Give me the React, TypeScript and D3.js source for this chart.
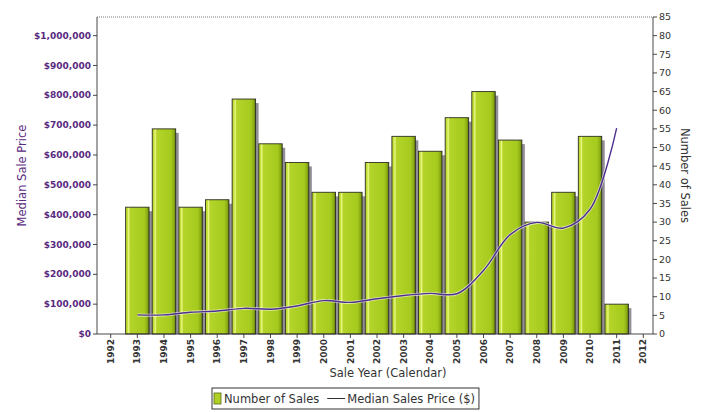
import React, { useEffect, useRef } from 'react';
import * as d3 from 'd3';

// x categories (calendar years on the axis)
const axisYears = ['1992', '1993', '1994', '1995', '1996', '1997', '1998', '1999', '2000', '2001', '2002',
  '2003', '2004', '2005', '2006', '2007', '2008', '2009', '2010', '2011', '2012'];

// years that have data
const saleYears = ['1993', '1994', '1995', '1996', '1997', '1998', '1999', '2000', '2001', '2002',
  '2003', '2004', '2005', '2006', '2007', '2008', '2009', '2010', '2011'];

// bars (right axis)
const numberOfSales = [34, 55, 34, 36, 63, 51, 46, 38, 38, 46, 53, 49, 58, 65, 52, 30, 38, 53, 8];

// line (left axis)
const medianPrice = [64000, 64000, 73000, 77000, 86000, 83000, 94000, 112000, 106000, 118000,
  129000, 136000, 135000, 213000, 333000, 374000, 355000, 418000, 690000];

const priceTicks = [0, 100000, 200000, 300000, 400000, 500000, 600000, 700000, 800000, 900000, 1000000];
const countTicks = [0, 5, 10, 15, 20, 25, 30, 35, 40, 45, 50, 55, 60, 65, 70, 75, 80, 85];

const W = 702;
const H = 412;
const FONT = '"DejaVu Sans", Verdana, sans-serif';

const App = () => {
  const svgRef = useRef(null);

  useEffect(() => {
    const svg = d3.select(svgRef.current);
    svg.selectAll('*').remove();

    const left = 97, right = 653, top = 17, bottom = 334;

    const x = d3.scaleBand().domain(axisYears).range([97.4, 656.6]).padding(0);
    const yCount = d3.scaleLinear().domain([0, 85]).range([bottom, top]);
    const yPrice = d3.scaleLinear().domain([0, 1062500]).range([bottom, top]);
    const cx = (d) => x(d) + x.bandwidth() / 2;

    svg.append('rect').attr('width', W).attr('height', H).attr('fill', '#fff');

    // bar gradient - light stripe on the left, darker right edge
    const grad = svg.append('defs').append('linearGradient')
      .attr('id', 'bar-grad').attr('x1', '0%').attr('x2', '100%').attr('y1', '0%').attr('y2', '0%');
    [['0%', '#afd024'], ['8%', '#c8e23e'], ['13%', '#ecf786'], ['19%', '#b4d42a'],
      ['80%', '#a6ca1e'], ['92%', '#8cae14'], ['100%', '#5e7a0c']].forEach(([o, c]) => {
      grad.append('stop').attr('offset', o).attr('stop-color', c);
    });

    // top border (dotted)
    svg.append('line')
      .attr('x1', left).attr('x2', right).attr('y1', top).attr('y2', top)
      .attr('stroke', '#555').attr('stroke-width', 0.8).attr('stroke-dasharray', '1,1');

    // bars
    const barW = x.bandwidth() * 0.88;
    const bars = svg.append('g');
    saleYears.forEach((yr, i) => {
      const bx = cx(yr) - barW / 2;
      const by = yCount(numberOfSales[i]);
      const bh = bottom - by;
      bars.append('rect')
        .attr('x', bx + 3).attr('y', by + 4)
        .attr('width', barW).attr('height', Math.max(0, bh - 4))
        .attr('fill', '#7f7a86').attr('opacity', 0.85);
      bars.append('rect')
        .attr('x', bx).attr('y', by)
        .attr('width', barW).attr('height', bh)
        .attr('fill', 'url(#bar-grad)')
        .attr('stroke', '#2e2e22').attr('stroke-width', 0.9);
    });

    // median price line
    const line = d3.line()
      .x((d, i) => cx(saleYears[i]))
      .y((d) => yPrice(d))
      .curve(d3.curveCatmullRom);
    svg.append('path')
      .datum(medianPrice)
      .attr('d', line)
      .attr('fill', 'none')
      .attr('stroke', '#ffffff').attr('stroke-opacity', 0.6).attr('stroke-width', 3);
    svg.append('path')
      .datum(medianPrice)
      .attr('d', line)
      .attr('fill', 'none')
      .attr('stroke', '#4f2f92').attr('stroke-width', 1.4);

    // axes lines
    const axisCol = '#333';
    svg.append('line').attr('x1', left).attr('x2', left).attr('y1', top).attr('y2', bottom)
      .attr('stroke', axisCol).attr('stroke-width', 0.9);
    svg.append('line').attr('x1', right).attr('x2', right).attr('y1', top).attr('y2', bottom)
      .attr('stroke', axisCol).attr('stroke-width', 0.9);
    svg.append('line').attr('x1', left).attr('x2', right).attr('y1', bottom).attr('y2', bottom)
      .attr('stroke', axisCol).attr('stroke-width', 0.9);

    // left ticks
    const priceFmt = (v) => '$' + d3.format(',')(v);
    priceTicks.forEach((t) => {
      const ty = yPrice(t);
      svg.append('line').attr('x1', left - 4).attr('x2', left).attr('y1', ty).attr('y2', ty)
        .attr('stroke', axisCol).attr('stroke-width', 0.9);
      svg.append('text')
        .attr('x', left - 6).attr('y', ty).attr('dy', '0.35em')
        .attr('text-anchor', 'end')
        .attr('font-family', FONT).attr('font-size', 9).attr('font-weight', 'bold')
        .attr('fill', '#5a2a80')
        .text(priceFmt(t));
    });

    // right ticks
    countTicks.forEach((t) => {
      const ty = yCount(t);
      svg.append('line').attr('x1', right).attr('x2', right + 4).attr('y1', ty).attr('y2', ty)
        .attr('stroke', axisCol).attr('stroke-width', 0.9);
      svg.append('text')
        .attr('x', right + 6).attr('y', ty).attr('dy', '0.35em')
        .attr('font-family', FONT).attr('font-size', 9.5)
        .attr('fill', '#333')
        .text(t);
    });

    // bottom ticks
    axisYears.forEach((yr) => {
      const tx = cx(yr);
      svg.append('line').attr('x1', tx).attr('x2', tx).attr('y1', bottom).attr('y2', bottom + 4)
        .attr('stroke', axisCol).attr('stroke-width', 0.9);
      svg.append('text')
        .attr('transform', `translate(${tx},${bottom + 5}) rotate(-90)`)
        .attr('dy', '0.35em')
        .attr('text-anchor', 'end')
        .attr('font-family', FONT).attr('font-size', 9).attr('font-weight', 'bold')
        .attr('fill', '#333')
        .text(yr);
    });

    // axis titles
    svg.append('text')
      .attr('transform', `translate(22,${(top + bottom) / 2}) rotate(-90)`)
      .attr('dy', '0.35em').attr('text-anchor', 'middle')
      .attr('font-family', FONT).attr('font-size', 11.5)
      .attr('fill', '#5a2a80')
      .text('Median Sale Price');
    svg.append('text')
      .attr('transform', `translate(685,${(top + bottom) / 2}) rotate(90)`)
      .attr('dy', '0.35em').attr('text-anchor', 'middle')
      .attr('font-family', FONT).attr('font-size', 11.5)
      .attr('fill', '#333')
      .text('Number of Sales');
    svg.append('text')
      .attr('x', 388).attr('y', 377)
      .attr('text-anchor', 'middle')
      .attr('font-family', FONT).attr('font-size', 11.5)
      .attr('fill', '#333')
      .text('Sale Year (Calendar)');

    // legend
    const lg = svg.append('g');
    const box = lg.append('rect')
      .attr('y', 388).attr('height', 21)
      .attr('fill', '#fff').attr('stroke', '#333').attr('stroke-width', 1);
    const lx0 = 212;
    lg.append('rect')
      .attr('x', lx0 + 2).attr('y', 393).attr('width', 7).attr('height', 11)
      .attr('fill', '#afd024').attr('stroke', '#556b10').attr('stroke-width', 0.8);
    const t1 = lg.append('text')
      .attr('x', lx0 + 12).attr('y', 403)
      .attr('font-family', FONT).attr('font-size', 11.5).attr('fill', '#333')
      .text('Number of Sales');
    const t1w = t1.node().getComputedTextLength();
    const lineX = lx0 + 12 + t1w + 8;
    lg.append('line')
      .attr('x1', lineX).attr('x2', lineX + 18).attr('y1', 398.5).attr('y2', 398.5)
      .attr('stroke', '#333').attr('stroke-width', 1);
    const t2 = lg.append('text')
      .attr('x', lineX + 20).attr('y', 403)
      .attr('font-family', FONT).attr('font-size', 11.5).attr('fill', '#333')
      .text('Median Sales Price ($)');
    const t2w = t2.node().getComputedTextLength();
    box.attr('x', lx0).attr('width', lineX + 20 + t2w + 4 - lx0);
  }, []);

  return (
    <div style={{ position: 'absolute', left: 0, top: 0, background: '#fff' }}>
      <svg ref={svgRef} width={W} height={H} style={{ display: 'block' }} />
    </div>
  );
};

export default App;
